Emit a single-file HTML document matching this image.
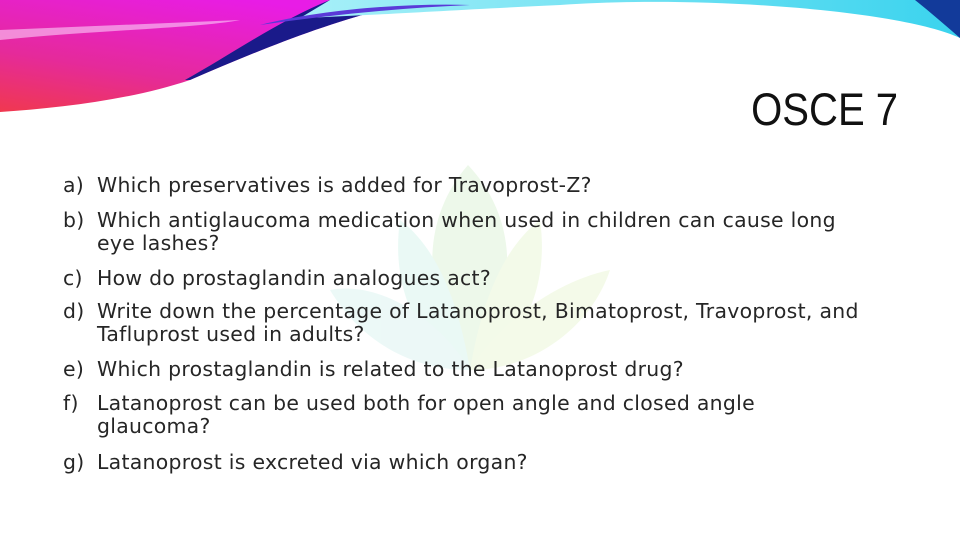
<!DOCTYPE html>
<html><head><meta charset="utf-8"><style>
html,body{margin:0;padding:0;}
body{width:960px;height:540px;position:relative;background:#fff;overflow:hidden;font-family:"DejaVu Sans","Liberation Sans",sans-serif;color:#222;}
#title{position:absolute;right:62px;top:84px;font-family:"Liberation Sans",sans-serif;font-size:45px;font-weight:normal;color:#111;transform:scaleX(0.89);transform-origin:right top;}
.item{position:absolute;left:63px;font-size:20.4px;line-height:23px;color:#262626;white-space:nowrap;letter-spacing:0.3px;}
.item .l{position:absolute;left:0;}
.item .t{margin-left:34px;display:block;}
</style></head><body>
<svg width="960" height="540" style="position:absolute;left:0;top:0">
<defs>
<linearGradient id="pk" x1="0" y1="1" x2="0.6" y2="0"><stop offset="0" stop-color="#f0384f"/><stop offset="0.4" stop-color="#e52a9a"/><stop offset="1" stop-color="#e81ce6"/></linearGradient>
<linearGradient id="cy" x1="0" y1="0" x2="1" y2="0"><stop offset="0" stop-color="#a8f0f8"/><stop offset="1" stop-color="#3ad3ee"/></linearGradient>
</defs>
<g opacity="0.7">
<path d="M468 165 C420 220 420 300 470 370 C520 300 520 220 468 165Z" fill="#e6f6e2"/>
<path d="M400 220 C390 290 420 350 470 370 C460 310 440 250 400 220Z" fill="#e2f7f2"/>
<path d="M540 220 C550 290 520 350 470 370 C480 310 500 250 540 220Z" fill="#eef8e0"/>
<path d="M330 290 C380 280 440 320 470 370 C410 370 360 340 330 290Z" fill="#e4f6f4"/>
<path d="M610 270 C560 280 500 320 470 370 C530 370 590 330 610 270Z" fill="#f0f9e0"/>
</g>
<path d="M0 0 L420 0 C330 20 260 50 190 80 C130 100 60 108 0 112Z" fill="url(#pk)"/>
<path d="M0 40 C100 30 200 28 240 20 L0 30Z" fill="#fbd0f8" opacity="0.6"/>
<path d="M185 80 C230 55 280 20 330 0 L420 0 C330 20 260 50 190 80Z" fill="#1a1a8a"/>
<path d="M330 0 L960 0 L960 38 C900 10 700 -5 560 5 C450 10 380 15 300 18Z" fill="url(#cy)"/>
<path d="M260 25 C320 10 400 3 470 5 C400 8 330 15 260 25Z" fill="#5a3ad8"/>
<path d="M915 0 L960 0 L960 38 C945 25 930 12 915 0Z" fill="#123a9a"/>
</svg>
<div id="title">OSCE 7</div>
<div class="item" style="top:174px"><span class="l">a)</span><span class="t">Which preservatives is added for Travoprost-Z?</span></div>
<div class="item" style="top:209px"><span class="l">b)</span><span class="t">Which antiglaucoma medication when used in children can cause long<br>eye lashes?</span></div>
<div class="item" style="top:267px"><span class="l">c)</span><span class="t">How do prostaglandin analogues act?</span></div>
<div class="item" style="top:300px"><span class="l">d)</span><span class="t">Write down the percentage of Latanoprost, Bimatoprost, Travoprost, and<br>Tafluprost used in adults?</span></div>
<div class="item" style="top:358px"><span class="l">e)</span><span class="t">Which prostaglandin is related to the Latanoprost drug?</span></div>
<div class="item" style="top:392px"><span class="l">f)</span><span class="t">Latanoprost can be used both for open angle and closed angle<br>glaucoma?</span></div>
<div class="item" style="top:451px"><span class="l">g)</span><span class="t">Latanoprost is excreted via which organ?</span></div>
</body></html>
